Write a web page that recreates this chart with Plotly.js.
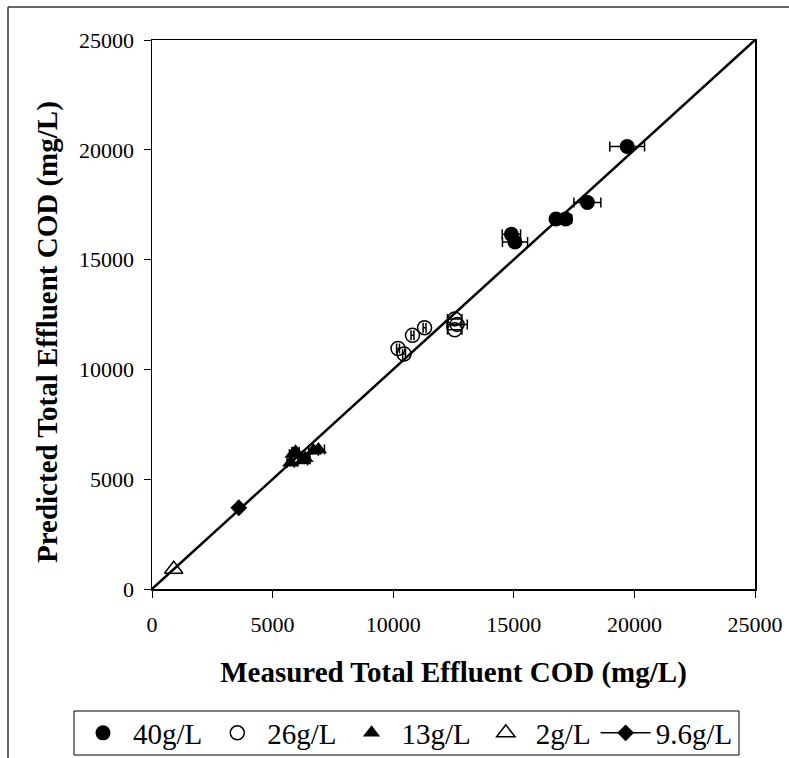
<!DOCTYPE html>
<html>
<head>
<meta charset="utf-8">
<script src="https://cdn.plot.ly/plotly-3.0.1.min.js"></script>
<style>html,body{margin:0;padding:0;background:#fff;}#chart{width:789px;height:758px;}</style>
</head>
<body>
<div id="chart"></div>
<script>
// 40 g/L
const m40x = [19700, 18050, 16750, 17150, 14900, 15050];
const m40y = [20150, 17600, 16850, 16850, 16150, 15800];
const m40err = [720, 560, 150, 250, 380, 520];
// 26 g/L
const m26x = [10200, 10450, 10800, 11300, 12550, 12650, 12550];
const m26y = [10950, 10700, 11550, 11900, 12300, 12050, 11800];
const m26err = [60, 60, 60, 60, 300, 420, 300];
// 13 g/L
const m13x = [5750, 5850, 5950, 6250, 6350, 6700, 6900];
const m13y = [5750, 6150, 6250, 5850, 5950, 6300, 6350];
const m13err = [150, 150, 150, 200, 200, 200, 250];
// 2 g/L
const m2x = [900];
const m2y = [900];
// 9.6 g/L
const m96x = [3600];
const m96y = [3700];
// 1:1 line
const lineX = [0, 25000];
const lineY = [0, 25000];

const tickVals = [0, 5000, 10000, 15000, 20000, 25000];
const xTitle = 'Measured Total Effluent COD (mg/L)';
const yTitle = 'Predicted Total Effluent COD (mg/L)';

const font = 'Liberation Serif, Times New Roman, serif';
const errStyle = (arr) => ({type: 'data', array: arr, visible: true, color: '#000', thickness: 1.5, width: 5});

const traces = [
  {x: lineX, y: lineY, mode: 'lines', line: {color: '#000', width: 2.5}, showlegend: false, hoverinfo: 'skip'},
  {x: m40x, y: m40y, mode: 'markers', name: '40g/L', marker: {symbol: 'circle', size: 15, color: '#000'}, error_x: errStyle(m40err)},
  {x: m26x, y: m26y, mode: 'markers', name: '26g/L', marker: {symbol: 'circle-open', size: 14, color: '#000', line: {width: 1.5}}, error_x: errStyle(m26err)},
  {x: m13x, y: m13y, mode: 'markers', name: '13g/L', marker: {symbol: 'triangle-up', size: 15, color: '#000'}, error_x: errStyle(m13err)},
  {x: m2x, y: m2y, mode: 'markers', name: '2g/L', marker: {symbol: 'triangle-up-open', size: 16, color: '#000', line: {width: 1.5}}},
  {x: m96x, y: m96y, mode: 'lines+markers', name: '9.6g/L', line: {color: '#000', width: 1.5}, marker: {symbol: 'diamond', size: 13, color: '#000'}}
];

const L = 152, R = 755, T = 40, B = 589;
const W = R - L, H = B - T;
const px = (x) => (x - L) / W;
const py = (y) => (B - y) / H;

const layout = {
  width: 789, height: 758,
  margin: {l: L, r: 789 - R, t: T, b: 758 - B, autoexpand: false},
  paper_bgcolor: '#fff', plot_bgcolor: '#fff',
  font: {family: font, color: '#000', size: 22},
  showlegend: true,
  xaxis: {
    range: [0, 25000], tickvals: tickVals, ticktext: tickVals.map(String),
    showgrid: false, zeroline: false, showline: true, linecolor: '#000', linewidth: 1.5, mirror: true,
    ticks: 'outside', ticklen: 7, tickwidth: 1, tickcolor: '#000', automargin: false,
    tickfont: {family: font, size: 22}, ticklabelstandoff: 8,
    title: {text: '<b>' + xTitle + '</b>', font: {family: font, size: 29}, standoff: 26}
  },
  yaxis: {
    range: [0, 25000], tickvals: tickVals, ticktext: tickVals.map(String),
    showgrid: false, zeroline: false, showline: true, linecolor: '#000', linewidth: 1.5, mirror: true,
    ticks: 'outside', ticklen: 7, tickwidth: 1, tickcolor: '#000', automargin: false,
    tickfont: {family: font, size: 22}, ticklabelstandoff: 5
  },
  annotations: [
    {text: '<b>' + yTitle + '</b>', xref: 'paper', yref: 'paper', x: px(47), y: py(332),
     xanchor: 'center', yanchor: 'middle', textangle: -90, showarrow: false,
     font: {family: font, size: 29, color: '#000'}}
  ],
  legend: {
    orientation: 'h', x: px(73), y: py(733), xanchor: 'left', yanchor: 'middle',
    borderwidth: 0, bgcolor: 'rgba(0,0,0,0)',
    font: {family: font, size: 29}, itemwidth: 50, tracegroupgap: 0
  },
  shapes: [
    {type: 'line', xref: 'paper', yref: 'paper', x0: px(8), x1: px(8), y0: py(7), y1: py(800), line: {color: '#333', width: 1.5}},
    {type: 'line', xref: 'paper', yref: 'paper', x0: px(8), x1: px(800), y0: py(7), y1: py(7), line: {color: '#333', width: 1.5}},
    {type: 'rect', xref: 'paper', yref: 'paper', x0: px(74), x1: px(739), y0: py(711), y1: py(755), line: {color: '#000', width: 1}, fillcolor: 'rgba(0,0,0,0)'}
  ]
};

Plotly.newPlot('chart', traces, layout, {displayModeBar: false, staticPlot: true});
</script>
</body>
</html>
